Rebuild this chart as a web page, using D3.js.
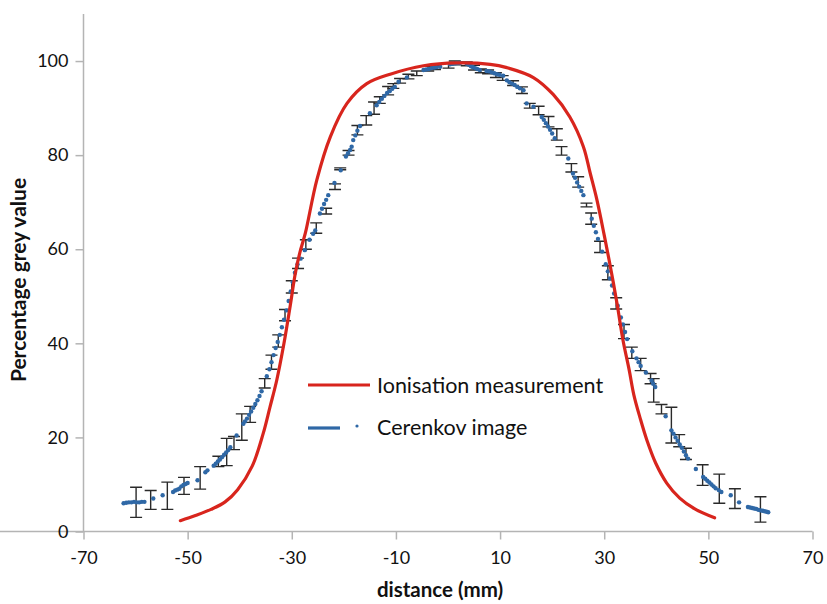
<!DOCTYPE html>
<html>
<head>
<meta charset="utf-8">
<script src="https://cdn.jsdelivr.net/npm/d3@7"></script>
<style>
  body { margin: 0; background: #fff; }
  svg { display: block; font-family: Lato, "Open Sans", sans-serif; }
</style>
</head>
<body>
<svg id="chart" width="827" height="604"></svg>
<script>
// ---- data ----
const xTicks = [-70, -50, -30, -10, 10, 30, 50, 70];
const yTicks = [0, 20, 40, 60, 80, 100];

// Ionisation measurement (red line)
const ionX = [-51.4, -48.5, -45.5, -42.8, -40.4, -37.6, -35.5, -34.2, -32.9, -31.5, -30.3, -29.3, -28.4, -27.4, -25.2, -22.6, -19.4, -15.6, -11.1, -4.7, 1.7, 8.1, 11.3, 16.4, 20.2, 23.4, 26.0, 27.3, 28.6, 30.0, 31.3, 32.5, 33.6, 34.8, 35.7, 36.9, 38.2, 39.9, 42.0, 44.5, 47.4, 51.2];
const ionY = [2.3, 3.4, 4.7, 6.3, 8.9, 13.9, 20.8, 26.4, 32.1, 40.0, 48.0, 55.0, 59.5, 63.4, 74.7, 83.9, 91.0, 95.2, 97.2, 99.0, 99.6, 99.3, 98.6, 96.5, 92.9, 88.1, 81.8, 76.2, 70.5, 63.0, 55.6, 48.2, 40.7, 34.3, 29.0, 24.1, 19.4, 14.5, 10.3, 7.1, 4.8, 2.9];

// Cerenkov image (blue points)
const cerX = [-62.3, -61.8, -61.3, -60.8, -60.3, -59.8, -59.3, -58.8, -58.3, -56.6, -54.8,
  -52.8, -52.4, -52.0, -51.6, -51.2, -50.8, -50.4, -50.0, -48.1, -46.6, -46.2,
  -45.0, -44.6, -44.2, -43.8, -43.4, -43.0, -42.6, -42.2, -41.8, -40.6,
  -39.3, -39.0, -38.6, -38.2, -37.8, -37.4, -37.0, -36.6, -36.2, -35.8,
  -34.8, -34.3, -33.9, -33.5, -33.1, -32.7, -32.3, -31.9, -31.5,
  -31.0, -30.6, -30.2, -29.8, -29.4, -28.9, -28.3, -27.5, -26.6, -25.9, -25.5,
  -24.6, -24.2, -23.8, -23.4, -23.0, -21.8, -20.6,
  -19.6, -19.2, -18.8, -18.5, -18.2, -17.8, -17.4, -16.9, -15.0,
  -13.7, -13.2, -12.7, -12.2, -11.7, -11.2, -10.7, -10.2, -9.5, -7.9,
  -4.7, -4.2, -3.7, -3.2, -2.7, -2.2, -1.5,
  0.4, 0.9, 1.4, 1.9, 2.3,
  3.6, 4.0, 4.4, 4.8, 5.2, 5.6, 6.1,
  7.4, 7.9, 8.4, 8.9, 9.4, 9.9, 10.6,
  11.3, 11.8, 12.3, 12.8, 13.3, 13.8, 14.5, 15.1, 16.4,
  18.0, 18.4, 18.8, 19.2, 19.6, 20.0, 20.5, 23.1,
  24.0, 24.4, 24.8, 25.2, 25.6, 26.0,
  27.6, 28.0, 28.4, 28.8, 29.6, 30.3, 30.7, 31.1, 31.5, 31.9, 32.6,
  33.2, 33.6, 34.0, 34.4, 35.4, 36.2, 36.6, 37.0, 38.0, 39.1, 39.4, 39.8,
  41.8, 42.9, 43.3, 43.7, 44.1, 44.5, 44.9, 45.3, 45.7, 46.1, 47.6,
  49.0, 49.4, 49.8, 50.2, 50.6, 51.0, 51.4, 52.0, 52.5, 54.3, 55.9,
  57.6, 58.0, 58.4, 58.8, 59.2, 59.6, 60.0, 60.4, 60.8, 61.2, 61.5];
const cerY = [6.0, 6.1, 6.2, 6.2, 6.3, 6.2, 6.2, 6.3, 6.3, 7.0, 7.7,
  8.4, 8.7, 8.9, 9.1, 9.6, 9.9, 10.1, 10.3, 10.9, 12.6, 13.0,
  14.0, 14.4, 14.9, 15.3, 15.8, 16.3, 16.8, 17.3, 17.9, 20.4,
  22.9, 23.4, 24.0, 24.8, 25.5, 26.3, 27.1, 27.9, 28.8, 29.8,
  33.0, 34.5, 36.0, 37.5, 39.0, 40.3, 41.8, 43.4, 45.0,
  47.0, 49.0, 51.0, 53.0, 55.0, 56.8, 58.0, 59.8, 62.0, 63.3, 64.0,
  67.6, 68.6, 69.6, 70.5, 71.5, 74.1, 76.8,
  79.7, 80.4, 81.1, 81.8, 83.2, 84.2, 85.2, 86.2, 88.9,
  90.6, 91.3, 92.0, 92.6, 93.2, 93.6, 94.1, 94.5, 95.6, 96.5,
  98.1, 98.2, 98.3, 98.5, 98.6, 98.7, 98.8,
  99.3, 99.4, 99.5, 99.6, 99.6,
  99.4, 99.2, 98.9, 98.7, 98.5, 98.3, 98.1,
  97.9, 97.8, 97.6, 97.4, 97.2, 97.1, 96.9,
  95.9, 95.5, 95.2, 94.9, 94.5, 94.2, 93.8, 91.0, 90.3,
  88.1, 87.5, 86.8, 86.1, 85.4, 84.6, 83.6, 79.3,
  76.1, 75.2, 74.2, 73.3, 72.4, 71.5,
  66.5, 65.0, 63.6, 62.2, 59.5, 56.8, 55.3, 53.8, 52.3, 50.6, 48.0,
  45.5, 44.0, 42.4, 40.9, 38.3, 36.8, 36.0, 35.2, 33.8, 32.1, 31.4, 30.7,
  24.5, 21.5, 20.8, 20.0, 19.3, 18.5, 17.8, 17.0, 16.2, 15.5, 13.3,
  11.6, 11.2, 10.8, 10.4, 10.0, 9.6, 9.2, 8.8, 8.4, 7.7, 6.2,
  5.2, 5.1, 5.0, 4.9, 4.8, 4.6, 4.5, 4.4, 4.3, 4.2, 4.1];

// Error bars on the Cerenkov image
const errX = [-59.9, -57.1, -53.9, -50.7, -47.6, -44.1, -42.5, -41.1, -39.6, -38.0, -35.2, -33.9, -32.6, -31.3, -30.0, -28.8, -27.3, -25.3, -23.4, -21.7, -20.7, -19.1, -17.4, -15.7, -14.2, -13.1, -11.5, -10.5, -9.2, -7.6, -6.0, -3.8, -2.5, 0.1, 1.3, 3.6, 5.0, 6.3, 7.7, 9.2, 10.5, 12.5, 14.2, 15.7, 17.4, 19.3, 20.9, 21.8, 23.7, 25.0, 26.6, 27.5, 29.2, 30.7, 32.3, 33.8, 35.3, 37.0, 38.9, 39.5, 41.0, 42.9, 44.4, 45.7, 48.9, 52.1, 55.1, 60.0];
const errY = [6.2, 6.7, 7.6, 9.7, 11.4, 14.9, 16.9, 18.8, 22.2, 24.9, 31.5, 36.0, 40.5, 46.0, 52.0, 57.0, 61.0, 64.5, 68.1, 73.3, 77.1, 80.5, 85.3, 87.4, 90.0, 91.7, 93.7, 94.7, 95.8, 96.7, 97.4, 98.4, 98.6, 99.0, 99.6, 99.4, 98.6, 97.9, 97.7, 97.0, 96.4, 95.3, 93.8, 90.5, 89.5, 87.1, 84.4, 80.9, 77.3, 74.3, 69.4, 66.5, 60.5, 55.0, 48.5, 42.5, 38.0, 35.5, 32.5, 30.0, 26.0, 22.6, 19.3, 16.5, 12.0, 9.1, 7.0, 4.7];
const errE = [3.2, 2.0, 2.9, 1.8, 2.4, 1.1, 2.9, 1.4, 2.8, 1.7, 1.0, 1.5, 1.3, 1.2, 1.3, 1.1, 1.0, 1.1, 0.6, 0.6, 0.2, 0.5, 1.0, 1.0, 1.3, 0.7, 0.9, 0.5, 0.5, 0.5, 0.5, 0.5, 0.4, 0.5, 0.4, 0.4, 0.5, 0.4, 0.4, 0.5, 0.5, 0.5, 0.7, 0.5, 0.9, 1.1, 1.2, 0.9, 0.9, 1.1, 0.4, 1.2, 1.2, 1.5, 1.2, 1.5, 1.2, 1.3, 1.1, 2.5, 1.0, 3.8, 1.3, 1.2, 2.2, 3.1, 2.1, 2.7];

const seriesNames = ["Ionisation measurement", "Cerenkov image"];
const colors = { ion: "#d8251d", cer: "#2f68a6", err: "#2a2a2a", axis: "#b4b4b4" };

// ---- layout ----
const svg = d3.select("#chart");
const x = d3.scaleLinear().domain([-70, 70]).range([83.5, 812.5]);
const y = d3.scaleLinear().domain([0, 110]).range([531.5, 14]);

// axes
const xAxis = svg.append("g").attr("transform", `translate(0,${y(0)})`)
  .call(d3.axisBottom(x).tickValues(xTicks).tickSize(8).tickPadding(12).tickFormat(d => String(d)));
const yAxis = svg.append("g").attr("transform", `translate(${x(-70)},0)`)
  .call(d3.axisLeft(y).tickValues(yTicks).tickSize(8).tickPadding(7).tickFormat(d => String(d)));
[xAxis, yAxis].forEach(g => {
  g.select(".domain").attr("stroke", colors.axis).attr("stroke-width", 1.5);
  g.selectAll(".tick line").attr("stroke", colors.axis).attr("stroke-width", 1.5);
  g.selectAll(".tick text").attr("fill", "#111").style("font-size", "18px").style("font-family", "Lato, sans-serif");
});
yAxis.select(".domain").attr("d", `M0,${y(110)}V${y(0)}`);
xAxis.select(".domain").attr("d", `M0,0H${x(70)}`);

// axis titles
svg.append("text").attr("x", 440).attr("y", 597).attr("text-anchor", "middle")
  .style("font-weight", "bold").style("font-size", "20.5px").attr("fill", "#111").text("distance (mm)");
svg.append("text").attr("transform", `translate(26,280) rotate(-90)`)
  .attr("text-anchor", "middle").style("font-weight", "bold").style("font-size", "21px")
  .attr("fill", "#111").text("Percentage grey value");

// error bars
const errData = errX.map((d, i) => ({ x: d, y: errY[i], e: errE[i] }));
const eb = svg.append("g").attr("stroke", colors.err).attr("stroke-width", 1.4).attr("fill", "none");
const cap = 6;
errData.forEach(d => {
  const cx = x(d.x), y1 = y(d.y + d.e), y2 = y(d.y - d.e);
  eb.append("path").attr("d", `M${cx},${y1}V${y2}M${cx - cap},${y1}H${cx + cap}M${cx - cap},${y2}H${cx + cap}`);
});

// Cerenkov points
const cerData = cerX.map((d, i) => ({ x: d, y: cerY[i] }));
svg.append("g").selectAll("circle").data(cerData).join("circle")
  .attr("cx", d => x(d.x)).attr("cy", d => y(d.y)).attr("r", 2.2).attr("fill", colors.cer);

// Ionisation line
const ionData = ionX.map((d, i) => ({ x: d, y: ionY[i] }));
svg.append("path").datum(ionData)
  .attr("d", d3.line().x(d => x(d.x)).y(d => y(d.y)).curve(d3.curveCatmullRom.alpha(0.5)))
  .attr("fill", "none").attr("stroke", colors.ion).attr("stroke-width", 3.2).attr("stroke-linecap", "round");

// legend
const lg = svg.append("g");
lg.append("line").attr("x1", 308).attr("x2", 370).attr("y1", 385).attr("y2", 385)
  .attr("stroke", colors.ion).attr("stroke-width", 3.2);
lg.append("line").attr("x1", 308).attr("x2", 340).attr("y1", 428).attr("y2", 428)
  .attr("stroke", colors.cer).attr("stroke-width", 3.2);
lg.append("circle").attr("cx", 357).attr("cy", 426).attr("r", 1.6).attr("fill", colors.cer);
lg.selectAll("text").data(seriesNames).join("text")
  .attr("x", 377).attr("y", (d, i) => 393 + i * 42)
  .style("font-size", "21.5px").attr("fill", "#111").text(d => d);
</script>
</body>
</html>
